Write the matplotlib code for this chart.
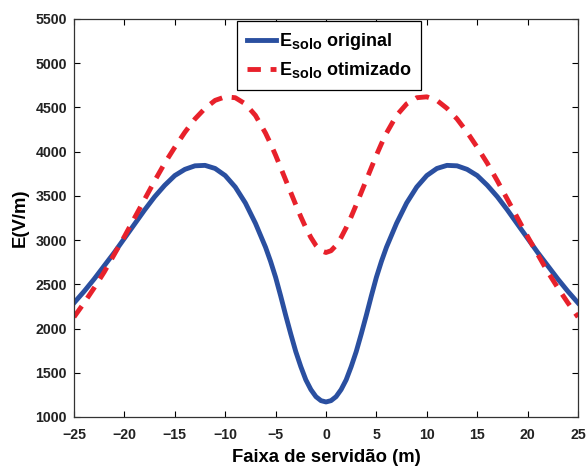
import matplotlib
matplotlib.use("Agg")
import matplotlib.pyplot as plt
import matplotlib._mathtext as _mt

plt.rcParams['font.family'] = ['Liberation Sans', 'DejaVu Sans']
plt.rcParams['mathtext.fontset'] = 'custom'
plt.rcParams['mathtext.rm'] = 'Liberation Sans:bold'
plt.rcParams['mathtext.bf'] = 'Liberation Sans:bold'
# slightly larger subscripts in the legend labels
_mt.SHRINK_FACTOR = 0.8

# Distance across the right-of-way (m)
x_pos = [-25, -24, -23, -22, -21, -20, -19, -18, -17, -16, -15, -14, -13,
         -12, -11, -10, -9, -8, -7, -6, -5.5, -5, -4.5, -4, -3.5, -3, -2.5,
         -2, -1.5, -1, -0.5, 0, 0.5, 1, 1.5, 2, 2.5, 3, 3.5, 4, 4.5, 5, 5.5,
         6, 7, 8, 9, 10, 11, 12, 13, 14, 15, 16, 17, 18, 19, 20, 21, 22,
         23, 24, 25]

# Ground-level electric field, original configuration (V/m)
e_original = [2290, 2420, 2560, 2710, 2860, 3020, 3180, 3340, 3490, 3620, 3730, 3800, 3840,
              3845, 3810, 3730, 3600, 3420, 3190, 2920, 2760, 2580, 2370, 2150, 1940, 1740, 1570,
              1420, 1310, 1230, 1185, 1170, 1185, 1230, 1310, 1420, 1570, 1740, 1940, 2150, 2370, 2580, 2760,
              2920, 3190, 3420, 3600, 3730, 3810, 3845, 3840, 3800, 3730, 3620, 3490, 3340, 3180, 3020, 2860, 2710,
              2560, 2420, 2290]

# Ground-level electric field, optimized configuration (V/m)
e_otimizado = [2130, 2290, 2460, 2640, 2840, 3040, 3250, 3460, 3670, 3870, 4050, 4220, 4370,
               4490, 4580, 4620, 4610, 4540, 4410, 4210, 4090, 3960, 3820, 3680, 3540, 3400, 3265,
               3140, 3030, 2940, 2880, 2860, 2880, 2940, 3030, 3140, 3265, 3400, 3540, 3680, 3820, 3960, 4090,
               4210, 4410, 4540, 4610, 4620, 4580, 4490, 4370, 4220, 4050, 3870, 3670, 3460, 3250, 3040, 2840, 2640,
               2460, 2290, 2130]

x_ticks = [-25, -20, -15, -10, -5, 0, 5, 10, 15, 20, 25]
y_ticks = [1000, 1500, 2000, 2500, 3000, 3500, 4000, 4500, 5000, 5500]

fig = plt.figure(figsize=(5.87, 4.68), dpi=100)
ax = fig.add_axes([74 / 587, 1 - 417 / 468, 504 / 587, 398 / 468])

ax.plot(x_pos, e_original, color='#2a4fa0', lw=3.5,
        label=r'E$_{\mathbf{solo}}$ original', solid_joinstyle='round')
ax.plot(x_pos, e_otimizado, color='#e8212b', lw=3.5, dashes=(2.75, 2.0),
        label=r'E$_{\mathbf{solo}}$ otimizado')

ax.set_xlim(-25, 25)
ax.set_ylim(1000, 5500)
ax.set_xticks(x_ticks)
ax.set_yticks(y_ticks)
ax.tick_params(direction='in', top=True, right=True, length=4, width=0.8,
               labelsize=10.2, pad=5)
ax.tick_params(axis='x', pad=8)
for lbl in ax.get_xticklabels() + ax.get_yticklabels():
    lbl.set_fontweight('bold')
    lbl.set_color('#222222')
for sp in ax.spines.values():
    sp.set_linewidth(0.9)
    sp.set_color('#333333')

ax.set_xlabel('Faixa de servidão (m)', fontsize=13.3, fontweight='bold', labelpad=5)
ax.set_ylabel('E(V/m)', fontsize=13.3, fontweight='bold', labelpad=5)

leg = ax.legend(loc='upper left', bbox_to_anchor=((237 - 74) / 504, 1 - 2 / 398),
                borderaxespad=0, prop={'weight': 'bold', 'size': 13},
                fancybox=False, edgecolor='black', framealpha=1,
                handlelength=1.6, handletextpad=0.15, borderpad=0.55,
                labelspacing=0.45)
leg.get_frame().set_linewidth(0.9)

fig.savefig('out.png', dpi=100)
